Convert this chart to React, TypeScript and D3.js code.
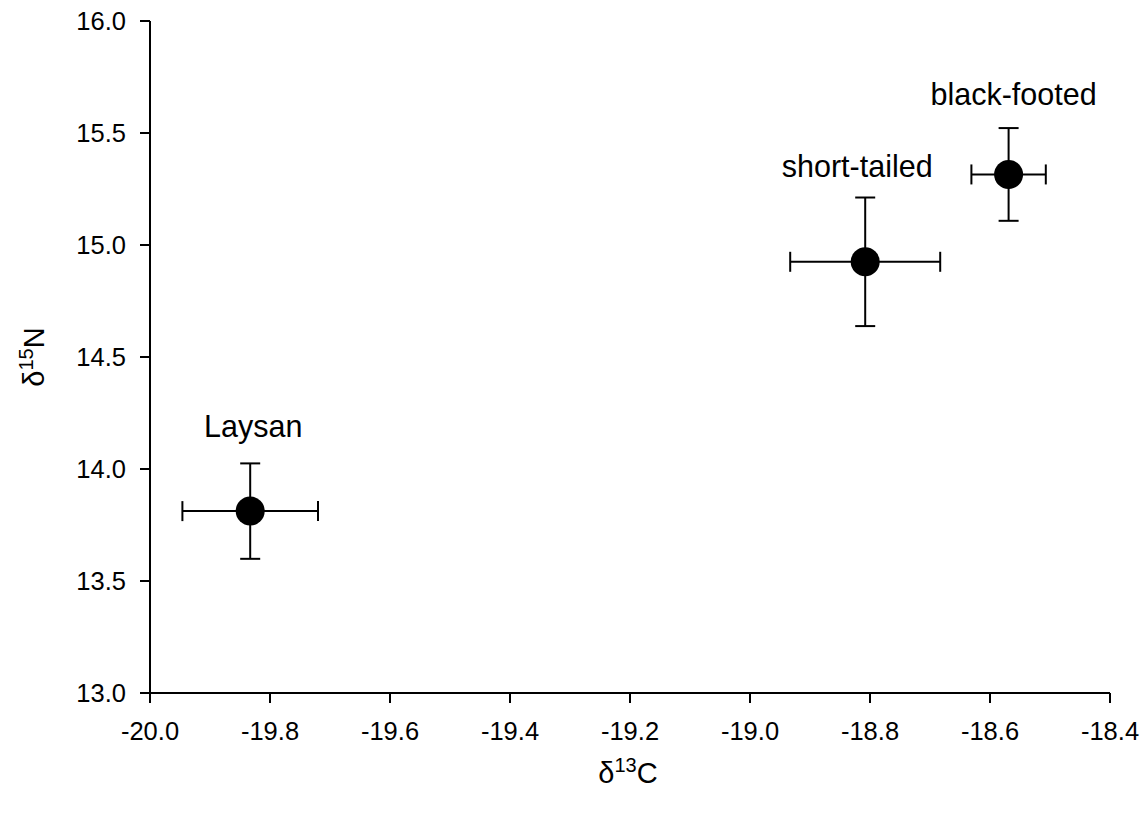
import React from "react";
import * as d3 from "d3";

// Species means with standard errors of the two isotope ratios
const species = ["Laysan", "short-tailed", "black-footed"];
const carbonMean = [-19.833, -18.808, -18.569];
const carbonErr = [0.113, 0.125, 0.062];
const nitrogenMean = [13.812, 14.925, 15.315];
const nitrogenErr = [0.213, 0.287, 0.207];

const xTicks = [-20.0, -19.8, -19.6, -19.4, -19.2, -19.0, -18.8, -18.6, -18.4];
const yTicks = [13.0, 13.5, 14.0, 14.5, 15.0, 15.5, 16.0];

// label placement relative to each point (pixels)
const labelDx = [3, -8, 5];
const labelDy = [-74, -85, -69];

const W = 1147;
const H = 813;
const M = { left: 150, right: 37, top: 21, bottom: 120 };

export default function App() {
  const x = d3.scaleLinear().domain([-20.0, -18.4]).range([M.left, W - M.right]);
  const y = d3.scaleLinear().domain([13.0, 16.0]).range([H - M.bottom, M.top]);
  const font = "'Liberation Sans', Arial, sans-serif";
  const cap = 10;
  const x0 = x(-20.0);
  const y0 = y(13.0);

  return (
    <svg
      width={W}
      height={H}
      style={{ position: "absolute", left: 0, top: 0, background: "#fff" }}
      fontFamily={font}
    >
      {/* axes */}
      <line x1={x0} x2={x(-18.4)} y1={y0} y2={y0} stroke="#000" strokeWidth={2} />
      <line x1={x0} x2={x0} y1={y0} y2={y(16.0)} stroke="#000" strokeWidth={2} />
      {xTicks.map((t) => (
        <g key={"x" + t}>
          <line x1={x(t)} x2={x(t)} y1={y0} y2={y0 + 10} stroke="#000" strokeWidth={2} />
          <text x={x(t)} y={y0 + 47} textAnchor="middle" fontSize={25.5} fill="#000">
            {d3.format(".1f")(t).replace("−", "-")}
          </text>
        </g>
      ))}
      {yTicks.map((t) => (
        <g key={"y" + t}>
          <line x1={x0 - 10} x2={x0} y1={y(t)} y2={y(t)} stroke="#000" strokeWidth={2} />
          <text x={x0 - 24} y={y(t) + 9} textAnchor="end" fontSize={25.5} fill="#000">
            {d3.format(".1f")(t)}
          </text>
        </g>
      ))}

      {/* axis titles */}
      <text x={628} y={783} textAnchor="middle" fontSize={29} fill="#000">
        δ<tspan dy={-11} fontSize={20}>13</tspan>
        <tspan dy={11}>C</tspan>
      </text>
      <text
        transform={`translate(44, ${357}) rotate(-90)`}
        textAnchor="middle"
        fontSize={29}
        fill="#000"
      >
        δ<tspan dy={-11} fontSize={20}>15</tspan>
        <tspan dy={11}>N</tspan>
      </text>

      {/* error bars and points */}
      {species.map((s, i) => {
        const cx = x(carbonMean[i]);
        const cy = y(nitrogenMean[i]);
        const xl = x(carbonMean[i] - carbonErr[i]);
        const xr = x(carbonMean[i] + carbonErr[i]);
        const yt = y(nitrogenMean[i] + nitrogenErr[i]);
        const yb = y(nitrogenMean[i] - nitrogenErr[i]);
        return (
          <g key={s}>
            <g stroke="#000" strokeWidth={2}>
              <line x1={xl} x2={xr} y1={cy} y2={cy} />
              <line x1={xl} x2={xl} y1={cy - cap} y2={cy + cap} />
              <line x1={xr} x2={xr} y1={cy - cap} y2={cy + cap} />
              <line x1={cx} x2={cx} y1={yt} y2={yb} />
              <line x1={cx - cap} x2={cx + cap} y1={yt} y2={yt} />
              <line x1={cx - cap} x2={cx + cap} y1={yb} y2={yb} />
            </g>
            <circle cx={cx} cy={cy} r={14.5} fill="#000" />
            <text
              x={cx + labelDx[i]}
              y={cy + labelDy[i]}
              textAnchor="middle"
              fontSize={30.5}
              fill="#000"
            >
              {s}
            </text>
          </g>
        );
      })}
    </svg>
  );
}
